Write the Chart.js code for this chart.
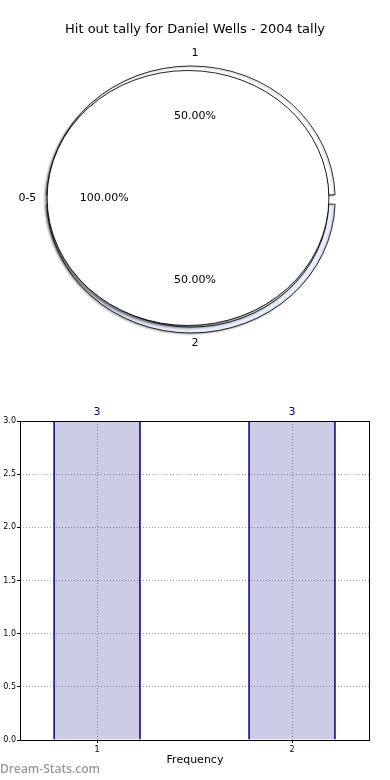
<!DOCTYPE html>
<html>
<head>
<meta charset="utf-8">
<script src="https://cdn.jsdelivr.net/npm/chart.js"></script>
<style>
  body { margin: 0; background: #fff; width: 390px; height: 780px; position: relative; overflow: hidden; }
  #pie-chart { position: absolute; left: 0; top: 0; }
  #bar-chart { position: absolute; left: 0; top: 380px; }
  #mark { position: absolute; left: 0; top: 760px; font: 600 12px "Open Sans", sans-serif; color: #999; }
</style>
</head>
<body>
<canvas id="pie-chart" width="390" height="380"></canvas>
<canvas id="bar-chart" width="390" height="400"></canvas>
<div id="mark">Dream-Stats.com</div>
<script>
var chartTitle = "Hit out tally for Daniel Wells - 2004 tally";
var ringLabels = ["1", "2"];
var ringValues = [3, 3];
var pieLabels = ["0-5"];
var pieValues = [6];

var barCategories = [1, 2];
var barValues = [3, 3];
var yTicks = [0, 0.5, 1, 1.5, 2, 2.5, 3];
var xLabel = "Frequency";

var SX = 1.105;      // inner pie is drawn as an ellipse
var RING_SX = 1.08;  // outer ring is a slightly rounder ellipse
var RING_GAP = 6;

var pieDeco = {
  id: "pieDeco",
  beforeDatasetsDraw: function(chart) {
    var arc = chart.getDatasetMeta(1).data[0];
    var ctx = chart.ctx;
    ctx.save();
    ctx.translate(arc.x, arc.y);
    ctx.scale(SX, 1);
    ctx.translate(-arc.x, -arc.y);
  },
  afterDatasetsDraw: function(chart) {
    chart.ctx.restore();
  },
  beforeDatasetDraw: function(chart, args) {
    var ctx = chart.ctx;
    var arc = chart.getDatasetMeta(1).data[0];
    ctx.save();
    if (args.index === 0) {
      // spacing pushes the ring outwards, pull it back; ring sits a bit right and low
      var ringArc = chart.getDatasetMeta(0).data[0];
      var f = ringArc.outerRadius / (ringArc.outerRadius + RING_GAP / 2);
      ctx.translate(arc.x + 3 / SX, arc.y + 1.5);
      ctx.scale(RING_SX / SX * f, f);
      ctx.translate(-arc.x, -arc.y);
      ctx.shadowColor = "rgba(0,0,0,0.3)";
      ctx.shadowBlur = 2;
      ctx.shadowOffsetX = -1;
      ctx.shadowOffsetY = 1;
    } else {
      ctx.shadowColor = "rgba(0,0,0,0.55)";
      ctx.shadowBlur = 3;
      ctx.shadowOffsetX = -2;
      ctx.shadowOffsetY = 2;
    }
  },
  afterDatasetDraw: function(chart, args) {
    var ctx = chart.ctx;
    ctx.restore();
    if (args.index === 1) {
      var arc = chart.getDatasetMeta(1).data[0];
      ctx.save();
      ctx.strokeStyle = "#000";
      ctx.lineWidth = 0.8;
      ctx.beginPath();
      ctx.arc(arc.x, arc.y, arc.outerRadius, 0, Math.PI * 2);
      ctx.stroke();
      ctx.restore();
    }
  },
  afterDraw: function(chart) {
    var ctx = chart.ctx;
    var pieArc = chart.getDatasetMeta(1).data[0];
    var cx = pieArc.x, cy = pieArc.y, R = pieArc.outerRadius;
    ctx.save();
    ctx.fillStyle = "#000";
    ctx.textAlign = "center";
    ctx.textBaseline = "middle";
    ctx.font = "13px 'DejaVu Sans'";
    ctx.fillText(chartTitle, 195, 30);
    ctx.font = "11px 'DejaVu Sans'";
    [0, 1].forEach(function(di) {
      var ds = chart.data.datasets[di];
      var total = ds.data.reduce(function(a, b) { return a + b; }, 0);
      chart.getDatasetMeta(di).data.forEach(function(arc, i) {
        var mid = (arc.startAngle + arc.endAngle) / 2;
        var c = Math.cos(mid), s = Math.sin(mid);
        ctx.fillText(ds.labels[i], cx + c * R * 1.14 * SX + 7 * Math.abs(s), cy + s * R * 1.14);
        var pct = (ds.data[i] / total * 100).toFixed(2) + "%";
        ctx.fillText(pct, cx + c * R * 0.63 * SX + 5 + 2 * Math.abs(s), cy + s * R * 0.645);
      });
    });
    ctx.restore();
  }
};

new Chart(document.getElementById("pie-chart").getContext("2d"), {
  type: "pie",
  data: {
    datasets: [
      {
        data: ringValues,
        labels: ringLabels,
        backgroundColor: ["#ffffff", "#e8eefb"],
        borderColor: "#000",
        borderWidth: 0.8,
        weight: 6,
        rotation: -90,
        spacing: RING_GAP,
        order: 2
      },
      {
        data: pieValues,
        labels: pieLabels,
        backgroundColor: ["#ffffff"],
        borderWidth: 0,
        weight: 127.5,
        rotation: 90,
        order: 1
      }
    ]
  },
  options: {
    responsive: false,
    animation: false,
    radius: 133.5,
    layout: { padding: { left: 0, right: 14, top: 16, bottom: 0 } },
    plugins: {
      legend: { display: false },
      tooltip: { enabled: false }
    }
  },
  plugins: [pieDeco]
});

var barDeco = {
  id: "barDeco",
  afterDraw: function(chart) {
    var ctx = chart.ctx, a = chart.chartArea;
    ctx.save();
    ctx.strokeStyle = "#000";
    ctx.lineWidth = 1;
    ctx.strokeRect(Math.round(a.left) + 0.5, Math.round(a.top) + 0.5,
      Math.round(a.right - a.left) - 1, Math.round(a.bottom - a.top));
    ctx.fillStyle = "#000080";
    ctx.font = "11px 'DejaVu Sans'";
    ctx.textAlign = "center";
    ctx.textBaseline = "middle";
    chart.getDatasetMeta(0).data.forEach(function(bar, i) {
      ctx.fillText(String(barValues[i]), bar.x, bar.y - 9);
    });
    ctx.restore();
  }
};

new Chart(document.getElementById("bar-chart").getContext("2d"), {
  type: "bar",
  data: {
    datasets: [{
      data: barCategories.map(function(c, i) { return { x: c, y: barValues[i] }; }),
      backgroundColor: "rgba(0,0,128,0.2)",
      borderColor: "#000080",
      borderWidth: { left: 1, right: 1, top: 0, bottom: 0 },
      borderSkipped: false,
      barThickness: 87
    }]
  },
  options: {
    responsive: false,
    animation: false,
    layout: { padding: { left: 0, right: 20, top: 41, bottom: 0 } },
    plugins: { legend: { display: false }, tooltip: { enabled: false } },
    scales: {
      x: {
        type: "linear",
        offset: false,
        min: 0.605,
        max: 2.4,
        afterBuildTicks: function(s) { s.ticks = barCategories.map(function(v) { return { value: v }; }); },
        afterFit: function(s) { s.height = 40; },
        ticks: { color: "#000", font: { family: "DejaVu Sans", size: 8 }, padding: 2, maxRotation: 0 },
        grid: { offset: false, color: "rgba(120,120,120,0.7)", tickLength: 3, tickColor: "#000" },
        border: { display: false, dash: [1, 2] },
        title: {
          display: true,
          text: xLabel,
          color: "#000",
          font: { family: "DejaVu Sans", size: 11 },
          padding: { top: 0, bottom: 13.4 }
        }
      },
      y: {
        min: 0,
        max: 3,
        afterBuildTicks: function(s) { s.ticks = yTicks.map(function(v) { return { value: v }; }); },
        afterFit: function(s) { s.width = 20; },
        ticks: {
          color: "#000",
          font: { family: "DejaVu Sans", size: 8 },
          padding: 1,
          callback: function(v) { return v.toFixed(1); }
        },
        grid: { color: "rgba(120,120,120,0.7)", tickLength: 3, tickColor: "#000" },
        border: { display: false, dash: [1, 2] }
      }
    }
  },
  plugins: [barDeco]
});
</script>
</body>
</html>
